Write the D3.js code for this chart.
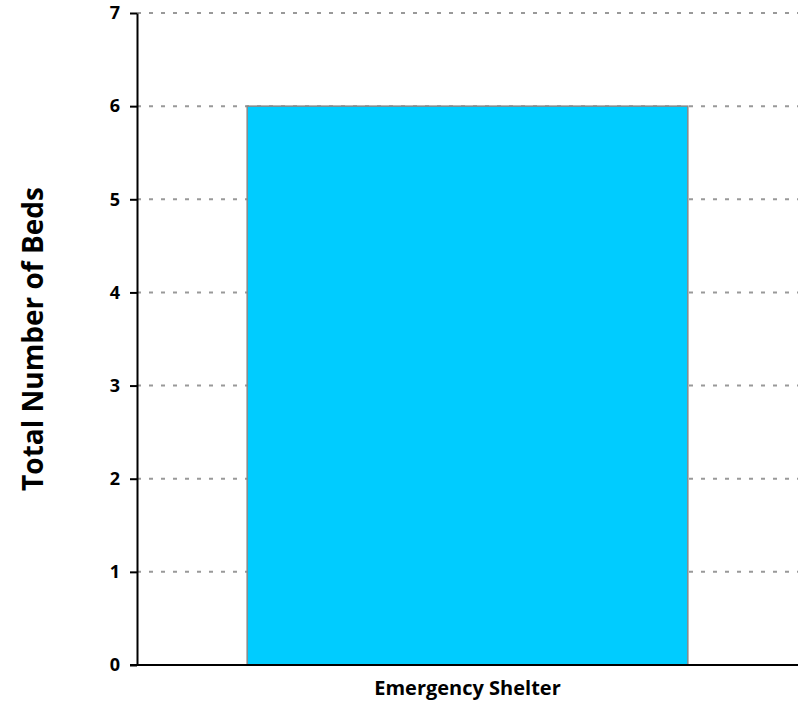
<!DOCTYPE html>
<html>
<head>
<meta charset="utf-8">
<script src="https://cdn.jsdelivr.net/npm/d3@7"></script>
<style>
  body { margin: 0; background: #fff; }
  text { font-family: "Open Sans", "Liberation Sans", sans-serif; font-weight: bold; }
</style>
</head>
<body>
<div id="chart"></div>
<script>
var categories = ['Emergency Shelter'];
var beds = [6];
var yTicks = [0, 1, 2, 3, 4, 5, 6, 7];

var width = 800, height = 702;
var margin = {top: 13, right: 2, bottom: 37, left: 137};

var svg = d3.select('#chart').append('svg')
  .attr('width', width)
  .attr('height', height);

var x = d3.scaleBand()
  .domain(categories)
  .range([margin.left, width - margin.right])
  .padding(0.2);

var y = d3.scaleLinear()
  .domain([0, 7])
  .range([height - margin.bottom, margin.top]);

// gridlines
svg.append('g')
  .selectAll('line')
  .data(yTicks.filter(function (d) { return d > 0; }))
  .enter().append('line')
  .attr('x1', margin.left)
  .attr('x2', width - margin.right)
  .attr('y1', function (d) { return y(d); })
  .attr('y2', function (d) { return y(d); })
  .attr('stroke', '#999')
  .attr('stroke-width', 2)
  .attr('stroke-dasharray', '4,8');

// bars
svg.append('g')
  .selectAll('rect')
  .data(beds)
  .enter().append('rect')
  .attr('x', function (d, i) { return x(categories[i]); })
  .attr('y', function (d) { return y(d); })
  .attr('width', x.bandwidth())
  .attr('height', function (d) { return y(0) - y(d); })
  .attr('fill', '#00CCFF')
  .attr('stroke', '#888')
  .attr('stroke-width', 1.5);

// y axis
var yAxis = svg.append('g')
  .attr('transform', 'translate(' + margin.left + ',0)')
  .call(d3.axisLeft(y).tickValues(yTicks).tickFormat(d3.format('d')).tickSize(7).tickSizeOuter(0));
yAxis.select('.domain').attr('stroke', '#000').attr('stroke-width', 2);
yAxis.selectAll('.tick line').attr('stroke', '#000').attr('stroke-width', 2);
yAxis.selectAll('.tick text')
  .attr('x', -17)
  .attr('fill', '#000')
  .style('font-size', '18px');

// x axis
var xAxis = svg.append('g')
  .attr('transform', 'translate(0,' + y(0) + ')')
  .call(d3.axisBottom(x).tickSize(0).tickSizeOuter(0));
xAxis.select('.domain').attr('stroke', '#000').attr('stroke-width', 2);
xAxis.select('.domain').attr('d', 'M' + (margin.left - 7) + ',0H' + (width - margin.right));
xAxis.selectAll('.tick text')
  .attr('dy', 0)
  .attr('y', 30)
  .attr('fill', '#000')
  .style('font-size', '20px');

// y title
svg.append('text')
  .attr('transform', 'translate(43,' + (margin.top + (y(0) - margin.top) / 2) + ') rotate(-90)')
  .attr('text-anchor', 'middle')
  .style('font-size', '28px')
  .text('Total Number of Beds');
</script>
</body>
</html>
